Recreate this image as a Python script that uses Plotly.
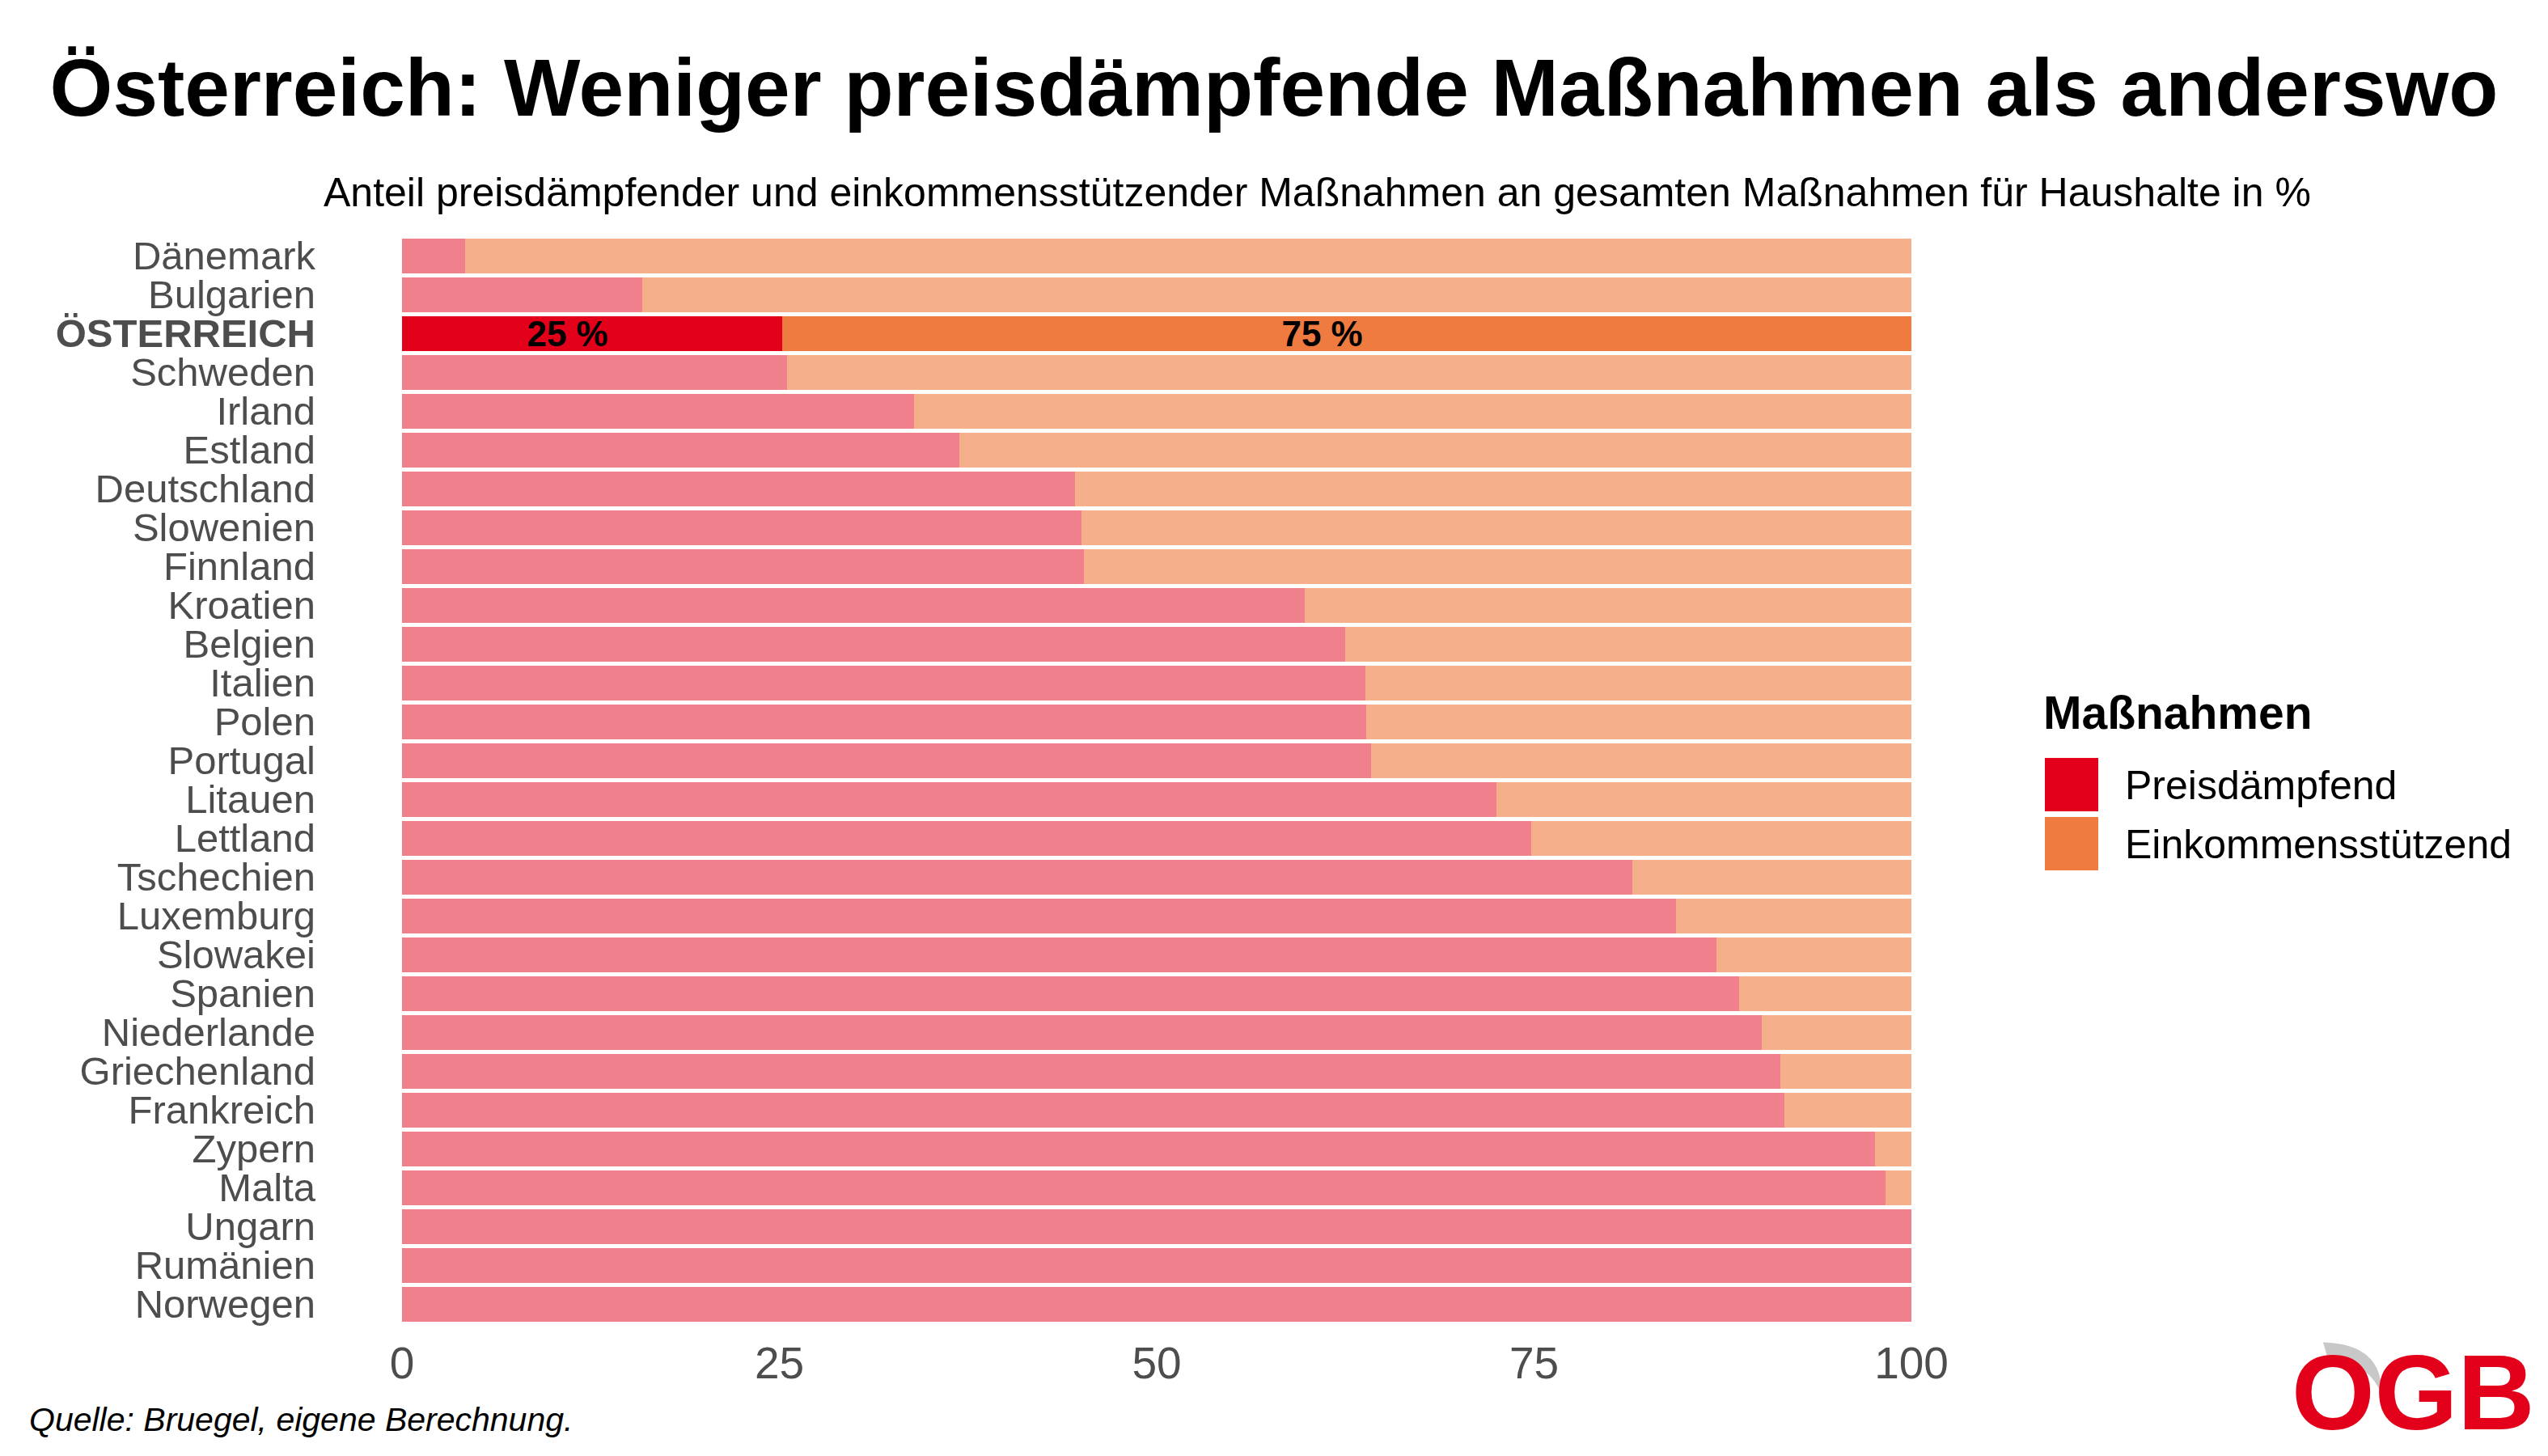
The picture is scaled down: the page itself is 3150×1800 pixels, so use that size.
import plotly.graph_objects as go

countries = ["Dänemark", "Bulgarien", "ÖSTERREICH", "Schweden", "Irland", "Estland",
             "Deutschland", "Slowenien", "Finnland", "Kroatien", "Belgien", "Italien",
             "Polen", "Portugal", "Litauen", "Lettland", "Tschechien", "Luxemburg",
             "Slowakei", "Spanien", "Niederlande", "Griechenland", "Frankreich",
             "Zypern", "Malta", "Ungarn", "Rumänien", "Norwegen"]
preisdaempfend = [4.2, 15.9, 25.2, 25.5, 33.9, 36.9, 44.6, 45.0, 45.2, 59.8, 62.5, 63.8,
                  63.9, 64.2, 72.5, 74.8, 81.5, 84.4, 87.1, 88.6, 90.1, 91.3, 91.6,
                  97.6, 98.3, 100.0, 100.0, 100.0]
einkommensstuetzend = [95.8, 84.1, 74.8, 74.5, 66.1, 63.1, 55.4, 55.0, 54.8, 40.2, 37.5, 36.2,
                       36.1, 35.8, 27.5, 25.2, 18.5, 15.6, 12.9, 11.4, 9.9, 8.7, 8.4,
                       2.4, 1.7, 0.0, 0.0, 0.0]
highlight = "ÖSTERREICH"
x_ticks = [0, 25, 50, 75, 100]

RED, RED_L = "#E2001A", "#F0808C"
ORA, ORA_L = "#EF7B40", "#F5AF8B"

W, H = 3150, 1800
L, R, T, B = 497, 2363, 291.5, 1636.5


def px(x):
    return (x - L) / (R - L)


def py(y):
    return (B - y) / (B - T)


PAD = "\u00a0" * 5
col1 = [RED if c == highlight else RED_L for c in countries]
col2 = [ORA if c == highlight else ORA_L for c in countries]
txt1 = ["<b>%d %%</b>%s" % (round(v), PAD) if c == highlight else "" for c, v in zip(countries, preisdaempfend)]
txt2 = ["<b>%d %%</b>%s" % (round(v), PAD) if c == highlight else "" for c, v in zip(countries, einkommensstuetzend)]
ticktext = ["<b>%s</b>" % c if c == highlight else c for c in countries]

fig = go.Figure()
fig.add_trace(go.Bar(y=countries, x=preisdaempfend, orientation="h", name="Preisdämpfend",
                     marker=dict(color=col1, line=dict(width=0)), text=txt1,
                     textposition="inside", insidetextanchor="middle", constraintext="none",
                     textangle=0, textfont=dict(size=44, color="black", family="Liberation Sans"),
                     showlegend=False, hoverinfo="skip"))
fig.add_trace(go.Bar(y=countries, x=einkommensstuetzend, orientation="h", name="Einkommensstützend",
                     marker=dict(color=col2, line=dict(width=0)), text=txt2,
                     textposition="inside", insidetextanchor="middle", constraintext="none",
                     textangle=0, textfont=dict(size=44, color="black", family="Liberation Sans"),
                     showlegend=False, hoverinfo="skip"))

shapes = []
annotations = []

# Subtitle
annotations.append(dict(text="Anteil preisdämpfender und einkommensstützender Maßnahmen an gesamten Maßnahmen für Haushalte in %",
                        xref="paper", yref="paper", x=px(1628), y=py(237), xanchor="center", yanchor="middle",
                        showarrow=False, font=dict(size=50, color="black", family="Liberation Sans")))
# Caption
annotations.append(dict(text="<i>Quelle: Bruegel, eigene Berechnung.</i>",
                        xref="paper", yref="paper", x=px(34), y=py(1756), xanchor="left", yanchor="middle",
                        showarrow=False, font=dict(size=41, color="black", family="Liberation Sans")))
# Legend (manual)
annotations.append(dict(text="<b>Maßnahmen</b>", xref="paper", yref="paper", x=px(2524), y=py(881),
                        xanchor="left", yanchor="middle", showarrow=False,
                        font=dict(size=57, color="black", family="Liberation Sans")))
for i, (lab, c) in enumerate([("Preisdämpfend", RED), ("Einkommensstützend", ORA)]):
    top = 937 + i * 73
    shapes.append(dict(type="rect", xref="paper", yref="paper", x0=px(2528), x1=px(2594),
                       y0=py(top + 66), y1=py(top), fillcolor=c, line=dict(width=0)))
    annotations.append(dict(text=lab, xref="paper", yref="paper", x=px(2625), y=py(top + 34),
                            xanchor="left", yanchor="middle", showarrow=False,
                            font=dict(size=50, color="black", family="Liberation Sans")))

# Logo
path = "M %f,%f Q %f,%f %f,%f Q %f,%f %f,%f Z" % (
    px(2872), py(1660), px(2946), py(1662), px(2944), py(1724), px(2928), py(1682), px(2880), py(1688))
shapes.append(dict(type="path", xref="paper", yref="paper", path=path,
                   fillcolor="#C8C8C8", line=dict(width=0)))
annotations.append(dict(text="<b>OGB</b>", xref="paper", yref="paper", x=px(3136), y=py(1798),
                        xanchor="right", yanchor="bottom", showarrow=False,
                        font=dict(size=132, color="#E2001A", family="Liberation Sans")))

fig.update_layout(
    width=W, height=H, barmode="stack", bargap=5 / 48,
    paper_bgcolor="white", plot_bgcolor="white",
    margin=dict(l=L, r=W - R, t=T, b=H - B, pad=0),
    title=dict(text="<b>Österreich: Weniger preisdämpfende Maßnahmen als anderswo</b>",
               xref="container", yref="container", x=0.5, y=1 - 108 / H,
               xanchor="center", yanchor="middle",
               font=dict(size=100, color="black", family="Liberation Sans")),
    xaxis=dict(range=[0, 100], tickvals=x_ticks, showgrid=False, zeroline=False, showline=False,
               ticks="", ticklabelstandoff=12,
               tickfont=dict(size=55, color="#4D4D4D", family="Liberation Sans")),
    yaxis=dict(autorange="reversed", tickvals=countries, ticktext=ticktext, showgrid=False,
               zeroline=False, showline=False, ticks="", ticklabelstandoff=106,
               tickfont=dict(size=49, color="#4D4D4D", family="Liberation Sans")),
    shapes=shapes, annotations=annotations,
)

fig.write_html("out.html")
